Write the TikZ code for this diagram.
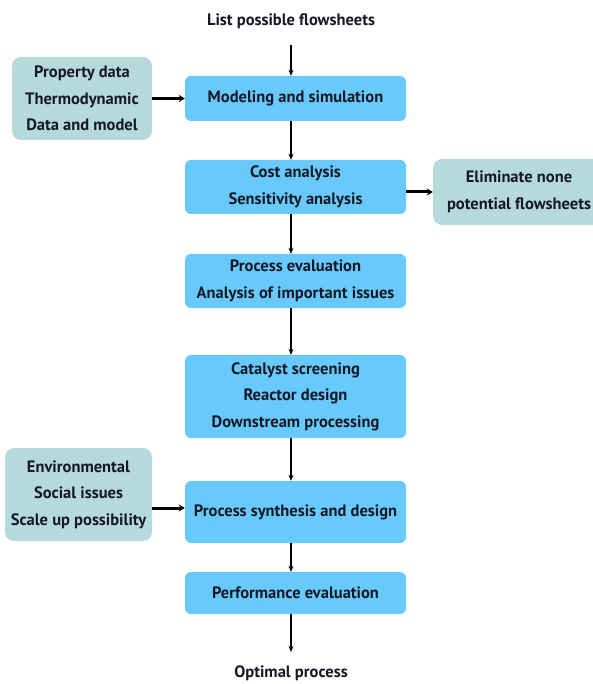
\documentclass[tikz,border=0pt]{standalone}
\usepackage{fontspec}
\setmainfont{PT Sans}
\usetikzlibrary{arrows.meta}
\definecolor{mainblue}{RGB}{104,202,252}
\definecolor{sidebox}{RGB}{182,218,220}
\definecolor{txt}{RGB}{22,24,36}
\begin{document}
\begin{tikzpicture}[x=1pt,y=-1pt,
  font=\fontsize{16.5}{26.5}\selectfont\bfseries, text=txt,
  mainbox/.style={fill=mainblue, rounded corners=6pt, align=center, inner sep=0pt},
  sidebox/.style={fill=sidebox, rounded corners=9pt, align=center, inner sep=0pt},
  vconn/.style={draw=black, line width=1.6pt, -{Stealth[length=6pt,width=5pt]}},
  hconn/.style={draw=black, line width=3pt, -{Stealth[length=6pt,width=7pt]}}]
\useasboundingbox (0,0) rectangle (592,684);
\node[mainbox, minimum width=221pt, minimum height=45pt] (m1) at (295.5,98.5) {Modeling and simulation};
\node[mainbox, minimum width=221pt, minimum height=54pt] (m2) at (295.5,187) {Cost analysis\\Sensitivity analysis};
\node[mainbox, minimum width=221pt, minimum height=54pt] (m3) at (295.5,281) {Process evaluation\\Analysis of important issues};
\node[mainbox, minimum width=221pt, minimum height=83pt] (m4) at (295.5,396.5) {Catalyst screening\\Reactor design\\Downstream processing};
\node[mainbox, minimum width=221pt, minimum height=62pt] (m5) at (295.5,512) {Process synthesis and design};
\node[mainbox, minimum width=221pt, minimum height=42pt] (m6) at (295.5,593) {Performance evaluation};
\node[sidebox, minimum width=140pt, minimum height=83pt] (l1) at (82,98.5) {Property data\\Thermodynamic\\Data and model};
\node[sidebox, minimum width=147pt, minimum height=93pt] (l2) at (78.5,494.5) {Environmental\\Social issues\\Scale up possibility};
\node[sidebox, minimum width=172pt, minimum height=66pt] (r1) at (519,192) {Eliminate none\\potential flowsheets};
\node (top) at (291,21) {List possible flowsheets};
\node (bot) at (291,673) {Optimal process};
\coordinate (topend) at (291,45);
\coordinate (botend) at (291,652);
\draw[vconn] (topend) -- (m1.north -| topend);
\draw[vconn] (m1.south -| topend) -- (m2.north -| topend);
\draw[vconn] (m2.south -| topend) -- (m3.north -| topend);
\draw[vconn] (m3.south -| topend) -- (m4.north -| topend);
\draw[vconn] (m4.south -| topend) -- (m5.north -| topend);
\draw[vconn] (m5.south -| topend) -- (m6.north -| topend);
\draw[vconn] (m6.south -| topend) -- (botend);
\draw[hconn] (l1.east) -- (m1.west);
\draw[hconn] ([yshift=4pt]m5.west -| l2.east) -- ([yshift=4pt]m5.west);
\draw[hconn] (r1.west -| m2.east) -- (r1.west);
\end{tikzpicture}
\end{document}
